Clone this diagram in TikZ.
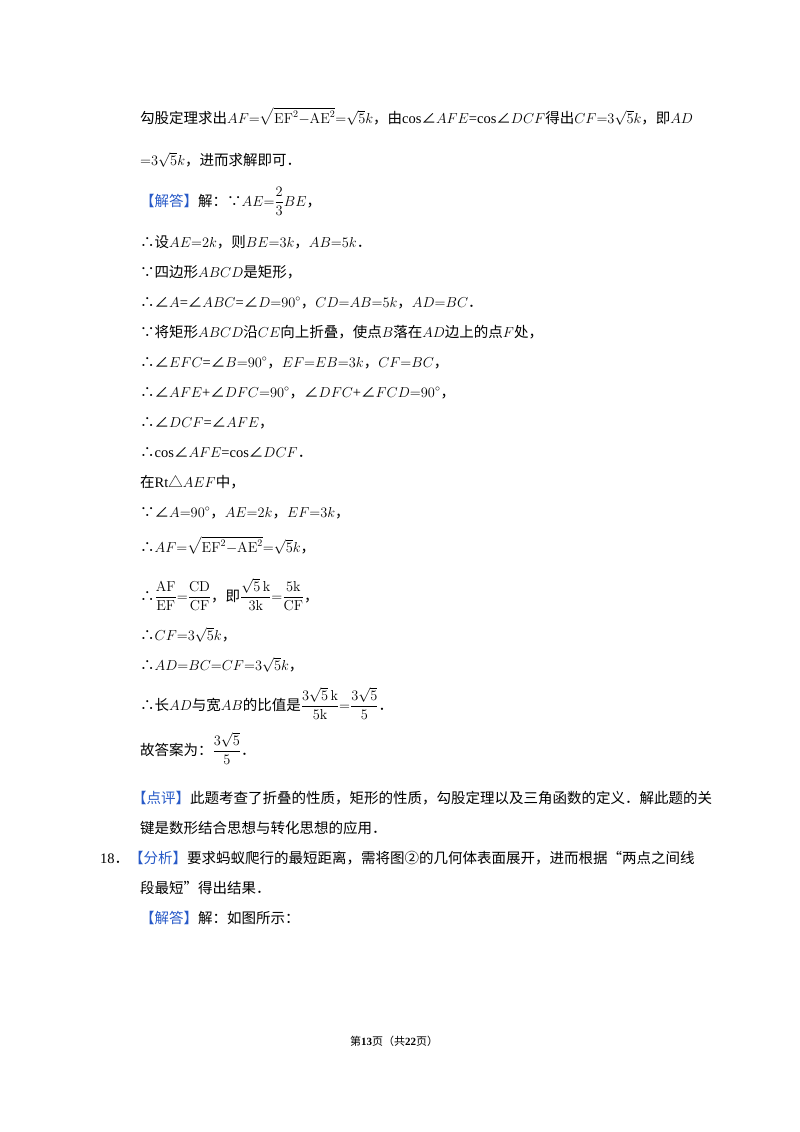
\documentclass[tikz,border=0pt]{standalone}
\usepackage{amsmath}
\usepackage[no-math]{fontspec}
\setmainfont{Liberation Serif}
\newfontfamily\cjk{Noto Sans CJK SC}
\newcommand{\zh}[1]{{\cjk #1}}
\definecolor{hd}{RGB}{40,90,200}
\newcommand{\hdr}[1]{\textcolor{hd}{\zh{【#1】}}}
\begin{document}
\begin{tikzpicture}[x=1pt,y=1pt,line/.style={anchor=base west,inner sep=0pt,font=\fontsize{14.5}{17}\selectfont}]
\useasboundingbox (0,0) rectangle (800,-1132);
\fill[white] (0,0) rectangle (800,-1132);
\node[line] (l1) at (140,-123) {\zh{勾股定理求出}$AF{=}\sqrt{\mathrm{EF}^2{-}\mathrm{AE}^2}{=}\sqrt5k$\zh{，由}cos\zh{∠}$AFE${=}cos\zh{∠}$DCF$\zh{得出}$CF{=}3\sqrt5k$\zh{，即}$AD$};
\node[line] (l2) at (140,-165) {${=}3\sqrt5k$\zh{，进而求解即可．}};
\node[line] (l3) at (140,-206) {\hdr{解答}\zh{解：∵}$AE{=}\dfrac{2}{3}BE$\zh{，}};
\node[line] (l4) at (140,-247) {\zh{∴设}$AE{=}2k$\zh{，则}$BE{=}3k$\zh{，}$AB{=}5k$\zh{．}};
\node[line] (l5) at (140,-277) {\zh{∵四边形}$ABCD$\zh{是矩形，}};
\node[line] (l6) at (140,-307) {\zh{∴∠}$A${=}\zh{∠}$ABC${=}\zh{∠}$D{=}90^\circ$\zh{，}$CD{=}AB{=}5k$\zh{，}$AD{=}BC$\zh{．}};
\node[line] (l7) at (140,-337) {\zh{∵将矩形}$ABCD$\zh{沿}$CE$\zh{向上折叠，使点}$B$\zh{落在}$AD$\zh{边上的点}$F$\zh{处，}};
\node[line] (l8) at (140,-367) {\zh{∴∠}$EFC${=}\zh{∠}$B{=}90^\circ$\zh{，}$EF{=}EB{=}3k$\zh{，}$CF{=}BC$\zh{，}};
\node[line] (l9) at (140,-397) {\zh{∴∠}$AFE${+}\zh{∠}$DFC{=}90^\circ$\zh{，∠}$DFC${+}\zh{∠}$FCD{=}90^\circ$\zh{，}};
\node[line] (l10) at (140,-427) {\zh{∴∠}$DCF${=}\zh{∠}$AFE$\zh{，}};
\node[line] (l11) at (140,-457) {\zh{∴}cos\zh{∠}$AFE${=}cos\zh{∠}$DCF$\zh{．}};
\node[line] (l12) at (140,-487) {\zh{在}Rt\zh{△}$AEF$\zh{中，}};
\node[line] (l13) at (140,-517) {\zh{∵∠}$A{=}90^\circ$\zh{，}$AE{=}2k$\zh{，}$EF{=}3k$\zh{，}};
\node[line] (l14) at (140,-552) {\zh{∴}$AF{=}\sqrt{\mathrm{EF}^2{-}\mathrm{AE}^2}{=}\sqrt5k$\zh{，}};
\node[line] (l15) at (140,-601) {\zh{∴}$\dfrac{\mathrm{AF}}{\mathrm{EF}}{=}\dfrac{\mathrm{CD}}{\mathrm{CF}}$\zh{，即}$\dfrac{\sqrt5\,\mathrm{k}}{3\mathrm{k}}{=}\dfrac{5\mathrm{k}}{\mathrm{CF}}$\zh{，}};
\node[line] (l16) at (140,-640) {\zh{∴}$CF{=}3\sqrt5k$\zh{，}};
\node[line] (l17) at (140,-670) {\zh{∴}$AD{=}BC{=}CF{=}3\sqrt5k$\zh{，}};
\node[line] (l18) at (140,-710) {\zh{∴长}$AD$\zh{与宽}$AB$\zh{的比值是}$\dfrac{3\sqrt5\,\mathrm{k}}{5\mathrm{k}}{=}\dfrac{3\sqrt5}{5}$\zh{．}};
\node[line] (l19) at (140,-755) {\zh{故答案为：}$\dfrac{3\sqrt5}{5}$\zh{．}};
\node[line] (l20) at (132,-803) {\hdr{点评}\zh{此题考查了折叠的性质，矩形的性质，勾股定理以及三角函数的定义．解此题的关}};
\node[line] (l21) at (140,-833) {\zh{键是数形结合思想与转化思想的应用．}};
\node[line] (l22) at (100,-863) {18\zh{．}\hdr{分析}\zh{要求蚂蚁爬行的最短距离，需将图②的几何体表面展开，进而根据“两点之间线}};
\node[line] (l23) at (140,-893) {\zh{段最短”得出结果．}};
\node[line] (l24) at (140,-923) {\hdr{解答}\zh{解：如图所示：}};
\node[line,font=\fontsize{11}{13}\selectfont] (ft) at (350,-1045) {\zh{第}\textbf{13}\zh{页（共}\textbf{22}\zh{页）}};
\end{tikzpicture}
\end{document}
